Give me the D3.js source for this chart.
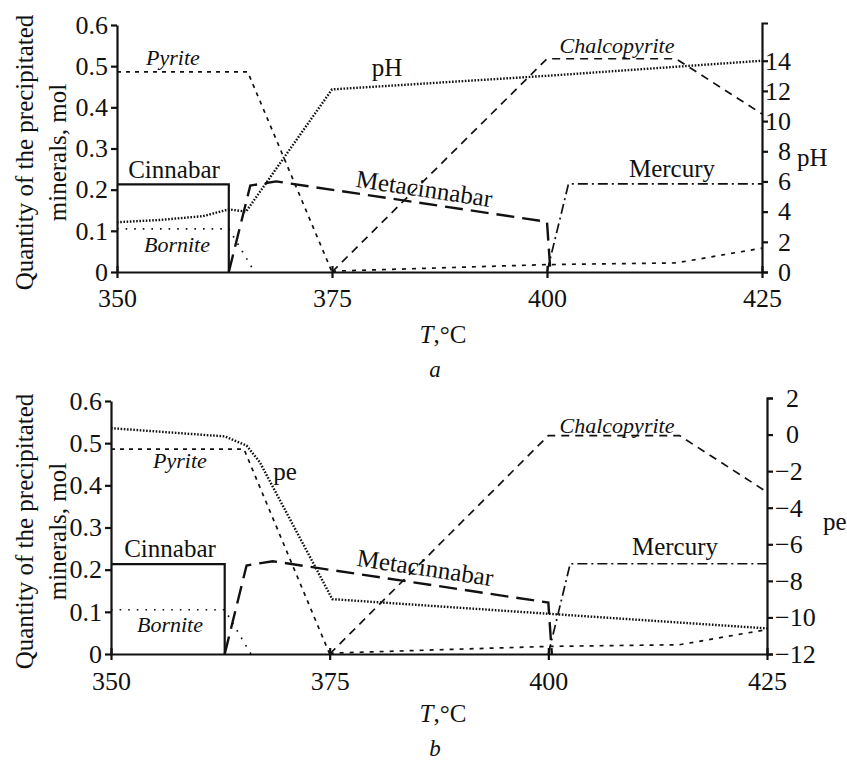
<!DOCTYPE html>
<html>
<head>
<meta charset="utf-8">
<script src="https://cdn.jsdelivr.net/npm/d3@7"></script>
<style>
  body { margin: 0; background: #fff; }
  svg text { font-family: "Liberation Serif", "DejaVu Serif", "Times New Roman", serif; fill: #111; }
  .axis path, .axis line { stroke: #111; stroke-width: 2.2; }
  .axis text { font-size: 26px; }
  .series { fill: none; stroke: #111; }
</style>
</head>
<body>
<div id="chart"></div>
<script>
// tick labels
var tempTicks = [350, 375, 400, 425];
var molTicks = [0, 0.1, 0.2, 0.3, 0.4, 0.5, 0.6];
var phTicks = [0, 2, 4, 6, 8, 10, 12, 14];
var peTicks = [-12, -10, -8, -6, -4, -2, 0, 2];

// minerals, [T, mol] -- same in both panels
var cinnabar = [[350, 0.213], [363, 0.213], [363, 0]];
var pyrite = [[350, 0.486], [365.2, 0.486], [375, 0]];
var pyriteLow = [[375, 0.002], [400, 0.018], [415, 0.022], [425, 0.058]];
var bornite = [[350, 0.105], [363, 0.105], [366, 0]];
var metacinnabar = [[363, 0], [365.5, 0.21], [368.5, 0.22], [400, 0.122], [400.4, 0]];
var mercury = [[400, 0], [402.5, 0.214], [425, 0.214]];
var chalcopyrite = [[375, 0], [400, 0.518], [415, 0.518], [425, 0.384]];

// right-axis series
var phSeries = [[350, 3.3], [355, 3.45], [360, 3.7], [363, 4.15], [365, 4.0], [375, 12.1], [400, 13.0], [425, 14.0]];
var peSeries = [[350, 0.35], [363, -0.1], [365.5, -0.6], [367, -1.5], [375.3, -9.0], [400, -9.8], [425, -10.6]];

var svg = d3.select("#chart").append("svg")
    .attr("width", 847)
    .attr("height", 760);

function drawPanel(p) {
  var x = d3.scaleLinear().domain([350, 425]).range([p.left, p.right]);
  var y = d3.scaleLinear().domain([0, 0.6]).range([p.bottom, p.top]);
  var y2 = d3.scaleLinear().domain(p.rDomain).range([p.bottom, p.rTop]);

  var g = svg.append("g");

  var line = d3.line().x(function(d) { return x(d[0]); }).y(function(d) { return y(d[1]); });
  var line2 = d3.line().x(function(d) { return x(d[0]); }).y(function(d) { return y2(d[1]); });

  // series
  g.append("path").datum(p.rSeries).attr("class", "series")
      .attr("d", line2).attr("stroke-width", 2.4).attr("stroke-dasharray", "1.6,1.6");
  g.append("path").datum(pyrite).attr("class", "series")
      .attr("d", line).attr("stroke-width", 1.7).attr("stroke-dasharray", "4,5");
  g.append("path").datum(pyriteLow).attr("class", "series")
      .attr("d", line).attr("stroke-width", 1.7).attr("stroke-dasharray", "4,6");
  g.append("path").datum(bornite).attr("class", "series")
      .attr("d", line).attr("stroke-width", 1.7).attr("stroke-dasharray", "1.6,7");
  g.append("path").datum(chalcopyrite).attr("class", "series")
      .attr("d", line).attr("stroke-width", 1.7).attr("stroke-dasharray", "8,6");
  g.append("path").datum(metacinnabar).attr("class", "series")
      .attr("d", line).attr("stroke-width", 2.4).attr("stroke-dasharray", "18,8");
  g.append("path").datum(mercury).attr("class", "series")
      .attr("d", line).attr("stroke-width", 1.7).attr("stroke-dasharray", "10,4,2,4");
  g.append("path").datum(cinnabar).attr("class", "series")
      .attr("d", line).attr("stroke-width", 2.2);

  // left axis
  g.append("g").attr("class", "axis")
      .attr("transform", "translate(" + p.left + ",0)")
      .call(d3.axisLeft(y).tickValues(molTicks).tickSize(6).tickSizeOuter(0).tickPadding(3)
        .tickFormat(function(d) { return d === 0 ? "0" : d3.format(".1f")(d); }));

  // right axis
  var rAxis = g.append("g").attr("class", "axis")
      .attr("transform", "translate(" + p.right + ",0)")
      .call(d3.axisRight(y2).tickValues(p.rTicks).tickSize(6).tickSizeOuter(6).tickPadding(4));
  rAxis.selectAll("text").each(function(d) {
    var t = d3.select(this);
    if (p.rAnchorEnd) {
      t.attr("text-anchor", "end").attr("x", 29);
    } else {
      t.attr("text-anchor", "start").attr("x", d < 0 ? 8 : 19);
    }
  });

  // bottom axis
  var xAxis = g.append("g").attr("class", "axis")
      .attr("transform", "translate(0," + p.bottom + ")")
      .call(d3.axisBottom(x).tickValues(tempTicks).tickSizeOuter(0));
  xAxis.selectAll(".tick line").attr("y1", -6).attr("y2", 6);
  xAxis.selectAll(".tick text").attr("y", p.xLabelDy).attr("dy", null);

  // axis titles
  var cy = (p.top + p.bottom) / 2 + 4;
  g.append("text")
      .attr("transform", "translate(33," + cy + ") rotate(-90)")
      .attr("text-anchor", "middle").style("font-size", "25px")
      .text("Quantity of the precipitated");
  g.append("text")
      .attr("transform", "translate(66," + cy + ") rotate(-90)")
      .attr("text-anchor", "middle").style("font-size", "25px")
      .text("minerals, mol");

  g.append("text")
      .attr("x", p.rTitle[0]).attr("y", p.rTitle[1])
      .style("font-size", "25px")
      .text(p.rName);

  var tl = g.append("text")
      .attr("x", 443).attr("y", p.bottom + p.xTitleDy)
      .attr("text-anchor", "middle").style("font-size", "25px");
  tl.append("tspan").style("font-style", "italic").text("T");
  tl.append("tspan").text(",°C");

  g.append("text")
      .attr("x", 435).attr("y", p.bottom + p.letterDy)
      .attr("text-anchor", "middle").style("font-size", "23px").style("font-style", "italic")
      .text(p.letter);

  // series labels
  p.labels.forEach(function(l) {
    var t = g.append("text")
        .attr("text-anchor", "middle")
        .style("font-size", l.italic ? "22px" : "25px")
        .style("font-style", l.italic ? "italic" : "normal")
        .text(l.text);
    if (l.rot) {
      t.attr("transform", "translate(" + l.x + "," + l.y + ") rotate(" + l.rot + ")");
    } else {
      t.attr("x", l.x).attr("y", l.y);
    }
  });
}

drawPanel({
  left: 117, right: 762, top: 25, bottom: 272,
  rDomain: [0, 16.5], rTop: 23, rTicks: phTicks, rSeries: phSeries, rAnchorEnd: true,
  rName: "pH", rTitle: [797, 166],
  xLabelDy: 35, xTitleDy: 71, letterDy: 105, letter: "a",
  labels: [
    { text: "Pyrite", x: 173, y: 65, italic: true },
    { text: "Cinnabar", x: 174, y: 178 },
    { text: "Bornite", x: 177, y: 252, italic: true },
    { text: "pH", x: 387, y: 76 },
    { text: "Metacinnabar", x: 423, y: 197, rot: 8.5 },
    { text: "Chalcopyrite", x: 617, y: 53, italic: true },
    { text: "Mercury", x: 672, y: 177 }
  ]
});

drawPanel({
  left: 111, right: 767, top: 401, bottom: 654,
  rDomain: [-12, 2], rTop: 398, rTicks: peTicks, rSeries: peSeries, rAnchorEnd: false,
  rName: "pe", rTitle: [823, 530],
  xLabelDy: 36, xTitleDy: 68, letterDy: 102, letter: "b",
  labels: [
    { text: "Pyrite", x: 180, y: 468, italic: true },
    { text: "pe", x: 285, y: 480 },
    { text: "Cinnabar", x: 170, y: 557 },
    { text: "Bornite", x: 170, y: 632, italic: true },
    { text: "Metacinnabar", x: 424, y: 576, rot: 8.5 },
    { text: "Chalcopyrite", x: 617, y: 433, italic: true },
    { text: "Mercury", x: 675, y: 555 }
  ]
});
</script>
</body>
</html>
